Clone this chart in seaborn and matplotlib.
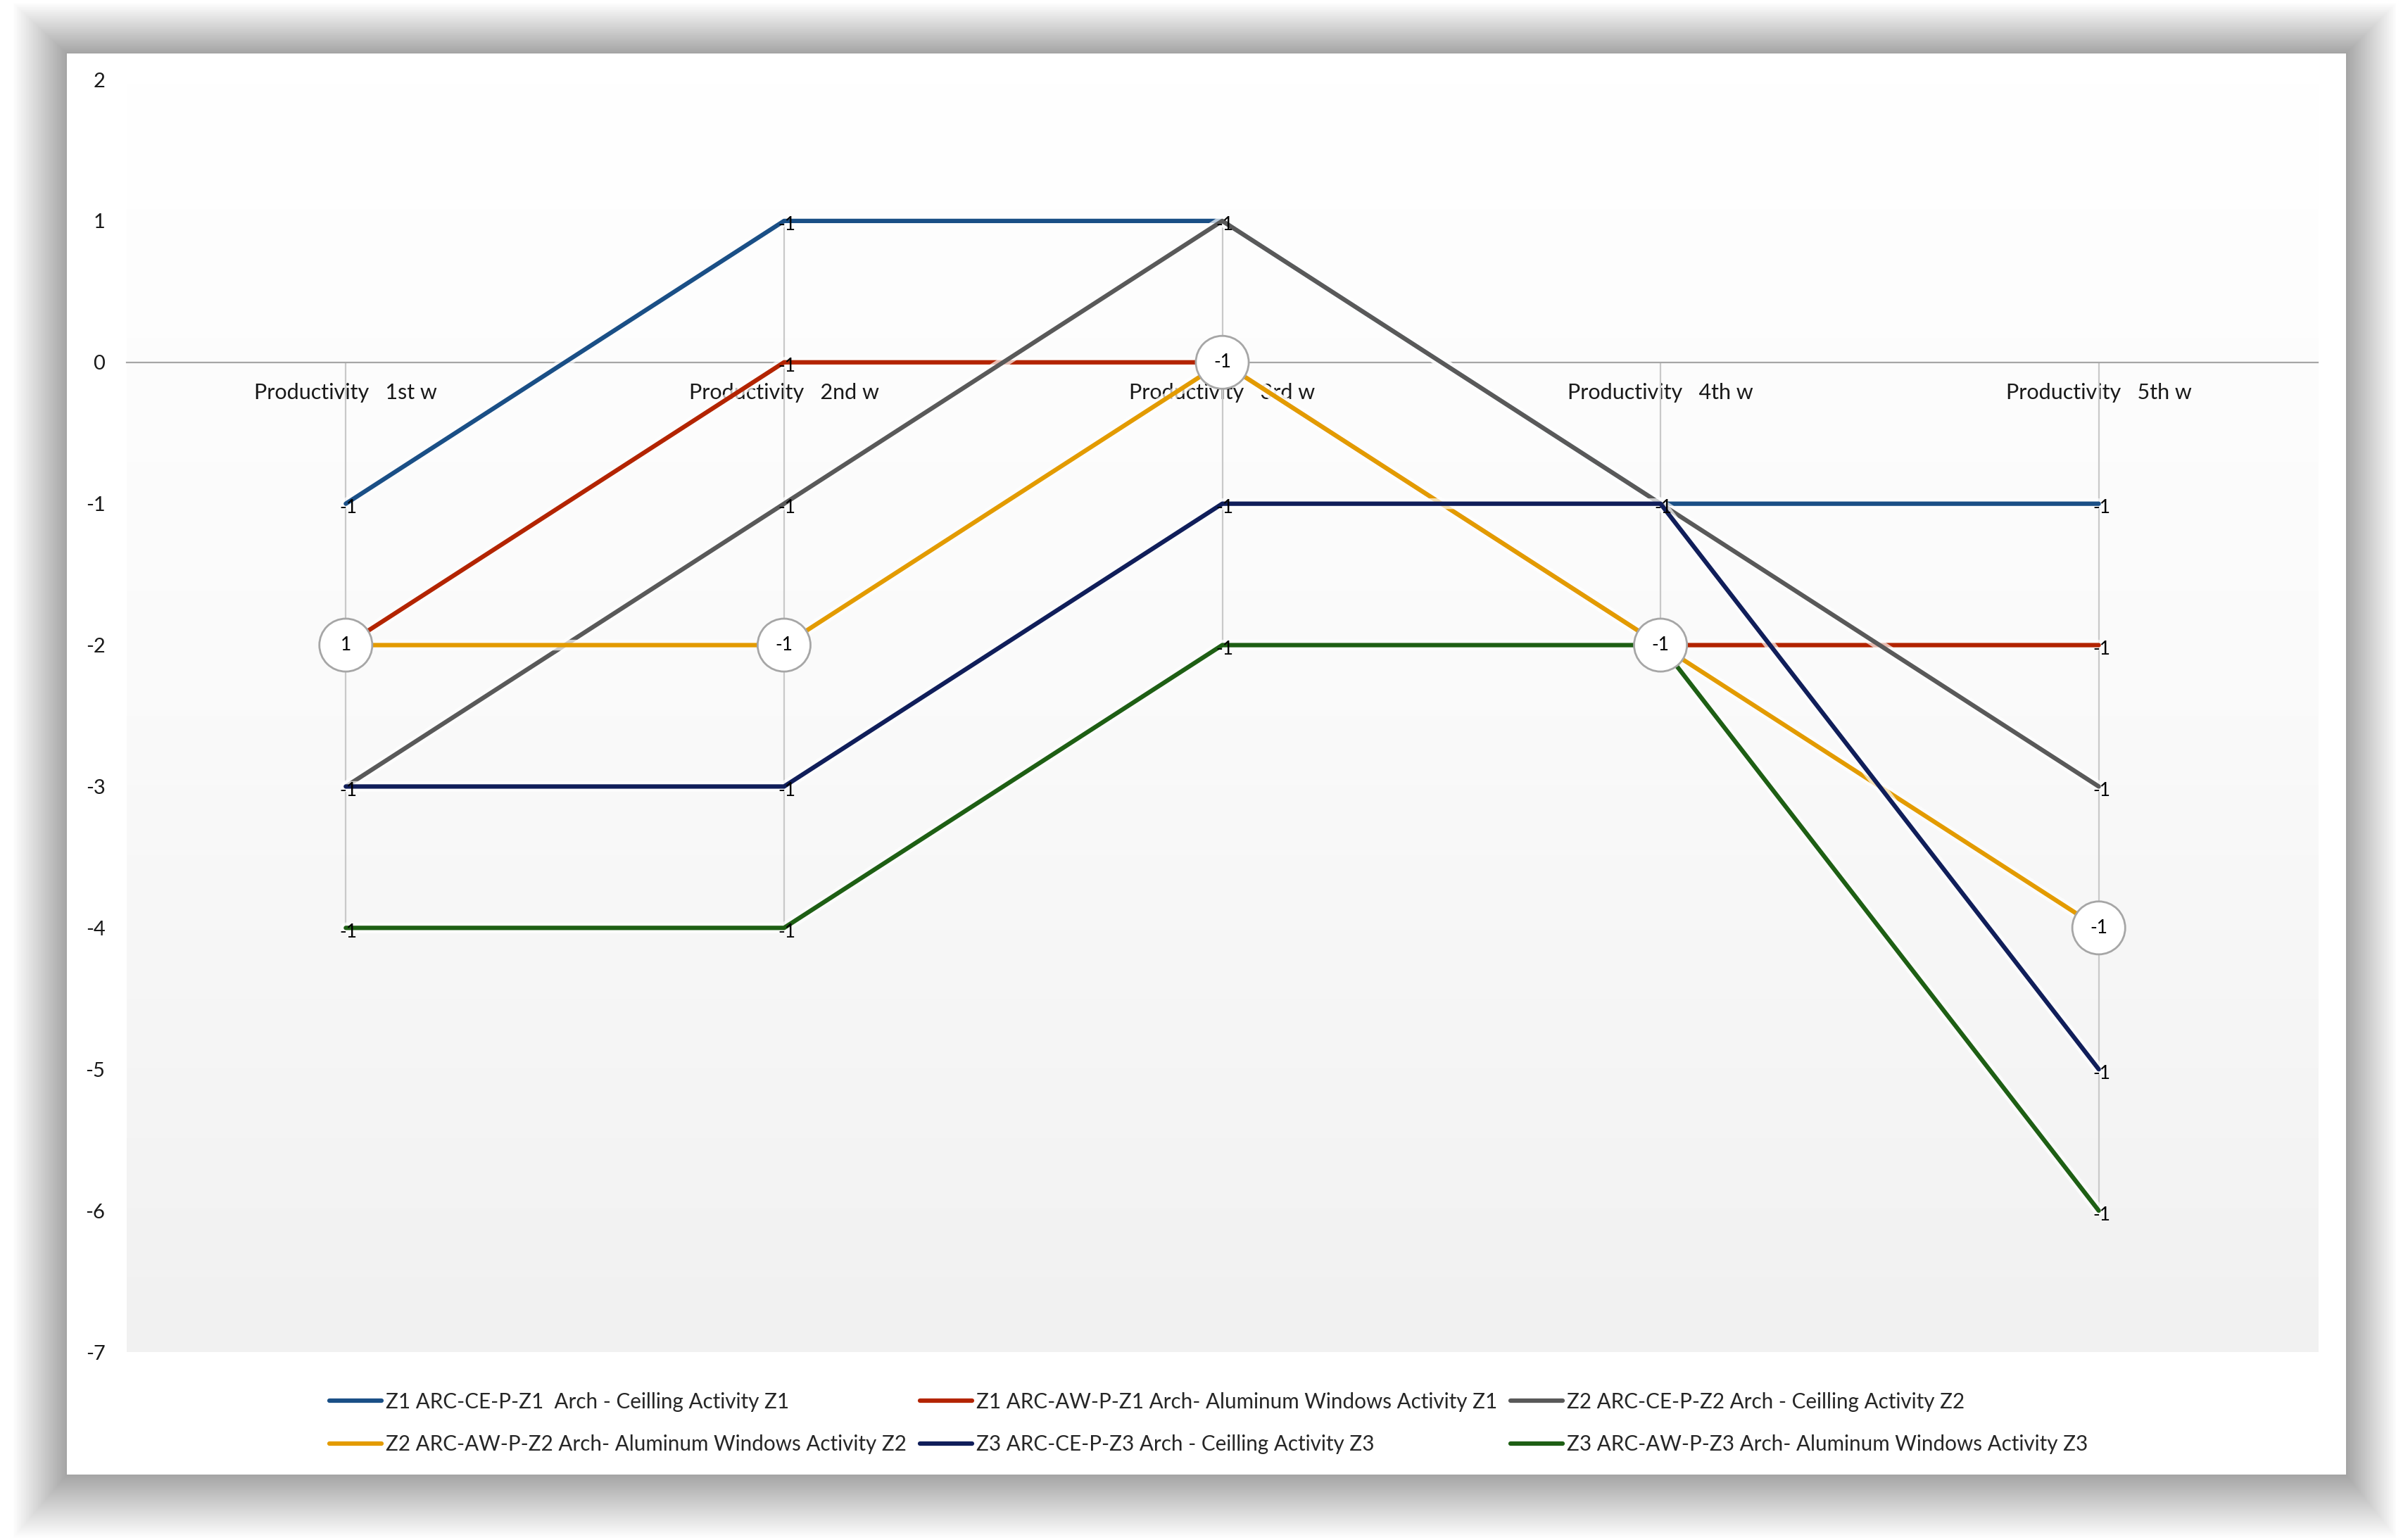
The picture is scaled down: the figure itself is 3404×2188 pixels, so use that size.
import numpy as np
import pandas as pd
import seaborn as sns
import matplotlib.pyplot as plt
import matplotlib.patheffects as pe
from matplotlib.patches import Rectangle
from matplotlib.lines import Line2D
from matplotlib.colors import LinearSegmentedColormap

weeks = ["Productivity   1st w", "Productivity   2nd w", "Productivity   3rd w",
         "Productivity   4th w", "Productivity   5th w"]
series_names = [
    "Z1 ARC-CE-P-Z1  Arch - Ceilling Activity Z1",
    "Z1 ARC-AW-P-Z1 Arch- Aluminum Windows Activity Z1",
    "Z2 ARC-CE-P-Z2 Arch - Ceilling Activity Z2",
    "Z2 ARC-AW-P-Z2 Arch- Aluminum Windows Activity Z2",
    "Z3 ARC-CE-P-Z3 Arch - Ceilling Activity Z3",
    "Z3 ARC-AW-P-Z3 Arch- Aluminum Windows Activity Z3",
]
z1_ce = [-1, 1, 1, -1, -1]
z1_aw = [-2, 0, 0, -2, -2]
z2_ce = [-3, -1, 1, -1, -3]
z2_aw = [-2, -2, 0, -2, -4]
z3_ce = [-3, -3, -1, -1, -5]
z3_aw = [-4, -4, -2, -2, -6]

# data labels as they appear on the chart
plain_labels = ["-1", "-1", "-1", "-1", "-1"]
z2_aw_labels = ["1", "-1", "-1", "-1", "-1"]

colors = ["#1a4f86", "#b32400", "#595959", "#e39b00", "#101e5a", "#1e5f14"]

all_values = [z1_ce, z1_aw, z2_ce, z2_aw, z3_ce, z3_aw]
df = pd.DataFrame({
    "week": weeks * len(series_names),
    "value": [v for vals in all_values for v in vals],
    "series": [s for s in series_names for _ in weeks],
})

sns.set_style("white")
plt.rcParams['font.family'] = ['Lato', 'DejaVu Sans']
plt.rcParams['axes.unicode_minus'] = False

W, H = 3404, 2188
fig = plt.figure(figsize=(W / 100, H / 100), dpi=100)
fig.patch.set_facecolor('white')


def px_box(x0, y0, x1, y1):
    # pixel box (top-left origin) -> figure fraction rectangle
    return (x0 / W, 1 - y1 / H), (x1 - x0) / W, (y1 - y0) / H


# soft shadow around the chart card
card = (95, 76, 3333, 2095)
for d in range(90, 0, -2):
    (x, y), w, h = px_box(card[0] - d * 0.85, card[1] - d * 0.8, card[2] + d * 0.8, card[3] + d)
    fig.patches.append(Rectangle((x, y), w, h, transform=fig.transFigure,
                                 facecolor='black', edgecolor='none', alpha=0.0075, zorder=-3))
(x, y), w, h = px_box(*card)
fig.patches.append(Rectangle((x, y), w, h, transform=fig.transFigure,
                             facecolor='white', edgecolor='none', zorder=-2))

ax = fig.add_axes([180 / W, 1 - 1921 / H, (3293 - 180) / W, (1921 - 113) / H])
ax.patch.set_alpha(0)

# plot-area gradient, light grey at the bottom to white at the top
grad = np.linspace(0, 1, 256).reshape(-1, 1)
bg_cmap = LinearSegmentedColormap.from_list('bg', ['#f1f1f1', '#fafafa', '#ffffff'])
ax.imshow(grad, extent=[0, 1, 0, 1], transform=ax.transAxes, cmap=bg_cmap,
          aspect='auto', origin='lower', zorder=0)

sns.lineplot(data=df, x='week', y='value', hue='series', hue_order=series_names,
             palette=colors, sort=False, estimator=None, linewidth=4.5,
             legend=False, ax=ax, zorder=3)
for line in ax.lines:
    line.set_path_effects([pe.Stroke(linewidth=11, foreground='white', alpha=0.7), pe.Normal()])

# drop lines from each category to the axis
for i in range(len(weeks)):
    col = [vals[i] for vals in all_values]
    ax.vlines(i, min(0, min(col)), max(0, max(col)), color='#c9c9c9', linewidth=1.6, zorder=1.5)

# data labels (one per visible spot; spots under the circled labels are hidden)
seen = set((i, v) for i, v in enumerate(z2_aw))
for vals in [z1_ce, z1_aw, z2_ce, z3_ce, z3_aw]:
    for i, v in enumerate(vals):
        if (i, v) in seen:
            continue
        seen.add((i, v))
        ax.text(i + 0.006, v - 0.03, plain_labels[i], ha='center', va='center',
                fontsize=19, color='black', zorder=10)
for i, v in enumerate(z2_aw):
    ax.text(i, v, z2_aw_labels[i], ha='center', va='center', fontsize=19, color='black',
            zorder=11, bbox=dict(boxstyle='circle,pad=0.95', facecolor='white',
                                 edgecolor='#a6a6a6', linewidth=2))

ax.set_xlim(-0.5, 4.5)
ax.set_ylim(-7, 2)
ax.set_yticks(range(-7, 3))
ax.set_xlabel('')
ax.set_ylabel('')
for side in ['top', 'right', 'left']:
    ax.spines[side].set_visible(False)
ax.spines['bottom'].set_position(('data', 0))
ax.spines['bottom'].set_color('#a6a6a6')
ax.spines['bottom'].set_linewidth(1.6)
ax.spines['bottom'].set_zorder(1.5)
ax.tick_params(axis='x', length=0, pad=21, labelsize=22, colors='#1a1a1a')
ax.tick_params(axis='y', length=0, pad=22, labelsize=21, colors='#1a1a1a')

order = [0, 3, 1, 4, 2, 5]
handles = [Line2D([], [], color=colors[k], linewidth=4.5,
                  path_effects=[pe.Stroke(linewidth=9, foreground='white', alpha=0.7), pe.Normal()])
           for k in order]
labels = [series_names[k] for k in order]
fig.legend(handles, labels, ncol=3, loc='center', bbox_to_anchor=(0.5045, 1 - 2022 / H),
           frameon=False, fontsize=21.3, handlelength=2.5, handletextpad=0.2,
           columnspacing=0.65, labelspacing=1.1)

fig.savefig('out.png', dpi=100, facecolor='white')
